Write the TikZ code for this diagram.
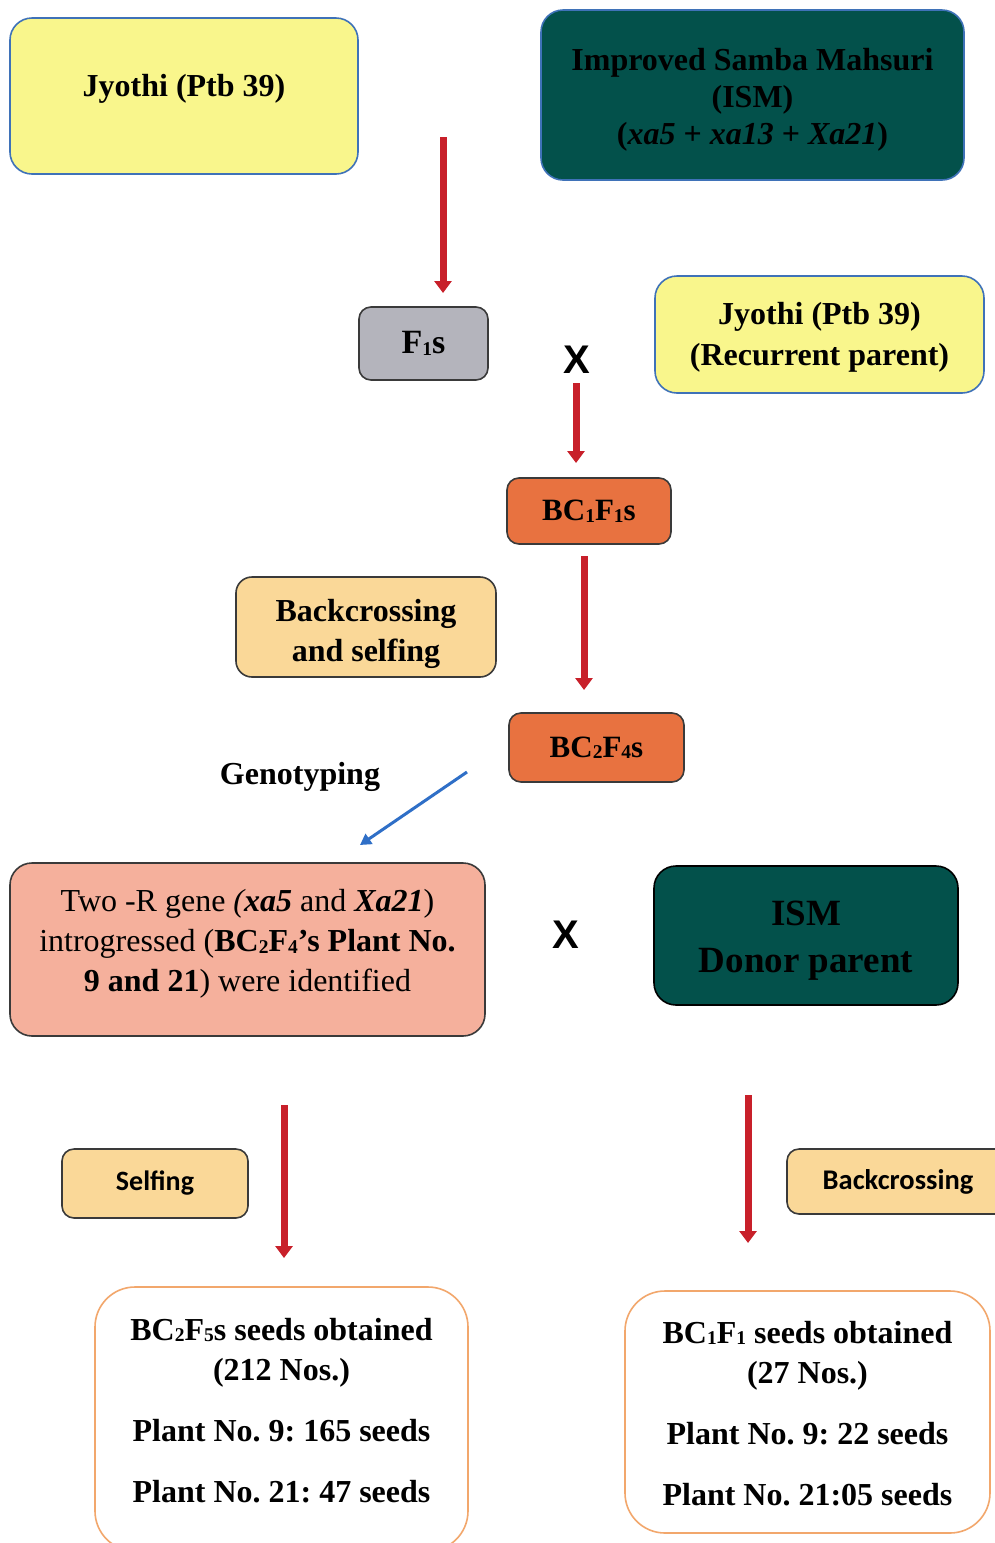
\documentclass[tikz,border=0pt]{standalone}
\usepackage{fontspec}
\setmainfont{Liberation Serif}
\newfontfamily\calib{Carlito}
\newfontfamily\arialf{Liberation Sans}
\usetikzlibrary{arrows.meta}
\definecolor{yel}{HTML}{F9F68C}
\definecolor{bluebd}{HTML}{3F72B8}
\definecolor{teal}{HTML}{03514B}
\definecolor{grayf}{HTML}{B4B4BC}
\definecolor{orng}{HTML}{E87240}
\definecolor{lorng}{HTML}{FAD898}
\definecolor{salm}{HTML}{F5B09C}
\definecolor{obd}{HTML}{F2A76C}
\definecolor{redarr}{HTML}{C8202A}
\definecolor{bluearr}{HTML}{2F6FC7}
\definecolor{dkbd}{HTML}{3A3A3A}
\newcommand\subs[1]{{\fontsize{19.5}{19.5}\selectfont\raisebox{-1.5pt}{#1}}}
\newcommand\shiftt[2]{\raisebox{#1}[\height][\depth]{\begin{tabular}{@{}c@{}}#2\end{tabular}}}
\frenchspacing
\tikzset{
  box/.style={rounded corners=22pt, align=center, inner sep=0pt,
    font=\bfseries\fontsize{32}{38}\selectfont, line width=1.6pt},
  smallbox/.style={box, rounded corners=12pt},
  redarrow/.style={draw=redarr, line width=7pt, -{Triangle[width=17pt,length=12pt]}},
  bluearrow/.style={draw=bluearr, line width=3pt, -{Triangle[width=12pt,length=11pt]}},
  crossx/.style={font=\arialf\bfseries\fontsize{40}{40}\selectfont, inner sep=0pt},
}
\begin{document}
\begin{tikzpicture}[x=1pt,y=-1pt]
\useasboundingbox (0,0) rectangle (995,1543);
\clip (0,0) rectangle (995,1543);
\fill[white] (0,0) rectangle (995,1543);

% top row
\node[box, draw=bluebd, fill=yel, minimum width=348pt, minimum height=156pt] (jy1) at (184,96)
  {\shiftt{7pt}{Jyothi (Ptb 39)}};
\node[box, draw=bluebd, fill=teal, minimum width=423pt, minimum height=170pt,
  font=\bfseries\fontsize{32}{37}\selectfont] (ism) at (752.5,95)
  {\shiftt{-5pt}{Improved Samba Mahsuri\\(ISM)\\(\textit{xa5} + \textit{xa13} + \textit{Xa21})}};

\coordinate (a1s) at (443,137);
\coordinate (a1e) at (443,293);
\draw[redarrow] (a1s) -- (a1e);

\node[smallbox, draw=dkbd, fill=grayf, minimum width=129pt, minimum height=73pt,
  font=\bfseries\fontsize{34}{40}\selectfont] (f1) at (423.5,343.5) {F\subs{1}s};
\node[crossx] (x1) at (577,360) {X};
\node[box, draw=bluebd, fill=yel, minimum width=329pt, minimum height=117pt,
  font=\bfseries\fontsize{32}{41}\selectfont] (jy2) at (819.5,334.5)
  {\shiftt{-2pt}{Jyothi (Ptb 39)\\(Recurrent parent)}};

\coordinate (a2s) at (576,383);
\coordinate (a2e) at (576,463);
\draw[redarrow] (a2s) -- (a2e);

\node[smallbox, draw=dkbd, fill=orng, minimum width=164pt, minimum height=66pt,
  font=\bfseries\fontsize{31}{36}\selectfont] (bc1) at (589,511) {BC\subs{1}F\subs{1}s};

\node[smallbox, rounded corners=16pt, draw=dkbd, fill=lorng, minimum width=260pt, minimum height=100pt,
  font=\bfseries\fontsize{32}{40}\selectfont] (bas) at (366,627)
  {\shiftt{-6pt}{Backcrossing\\and selfing}};

\coordinate (a3s) at (584,556);
\coordinate (a3e) at (584,690);
\draw[redarrow] (a3s) -- (a3e);

\node[smallbox, draw=dkbd, fill=orng, minimum width=175pt, minimum height=69pt,
  font=\bfseries\fontsize{31}{36}\selectfont] (bc2) at (596.5,747.5) {BC\subs{2}F\subs{4}s};

\node[font=\bfseries\fontsize{32}{36}\selectfont, inner sep=0pt] (geno) at (300,777) {Genotyping};
\coordinate (a4s) at (467,772);
\coordinate (a4e) at (360,845);
\draw[bluearrow] (a4s) -- (a4e);

% middle row
\node[box, draw=dkbd, fill=salm, minimum width=475pt, minimum height=173pt,
  font=\fontsize{32}{40}\selectfont] (two) at (247.5,949.5)
  {\shiftt{6pt}{Two -R gene \textit{(\textbf{xa5}} and \textbf{\textit{Xa21}})\\
   introgressed (\textbf{BC\subs{2}F\subs{4}’s Plant No.}\\
   \textbf{9 and 21}) were identified}};
\node[crossx] (x2) at (566,935) {X};
\node[box, draw=black, fill=teal, minimum width=304pt, minimum height=139pt,
  font=\bfseries\fontsize{37}{47}\selectfont] (don) at (806,935.5) {\shiftt{-4pt}{ISM\\Donor parent}};

% lower arrows & labels
\coordinate (a5s) at (284,1105);
\coordinate (a5e) at (284,1258);
\draw[redarrow] (a5s) -- (a5e);
\node[smallbox, draw=dkbd, fill=lorng, minimum width=186pt, minimum height=69pt,
  font=\calib\bfseries\fontsize{28}{34}\selectfont] (self) at (155,1183.5) {Selfing};

\coordinate (a6s) at (748,1095);
\coordinate (a6e) at (748,1243);
\draw[redarrow] (a6s) -- (a6e);
\node[smallbox, draw=dkbd, fill=lorng, minimum width=222pt, minimum height=65pt,
  font=\calib\bfseries\fontsize{28.5}{34}\selectfont] (back) at (898,1181.5) {Backcrossing};

% results
\node[box, rounded corners=40pt, draw=obd, fill=white, minimum width=373pt, minimum height=264pt,
  font=\bfseries\fontsize{32}{40}\selectfont] (res1) at (281.5,1419)
  {\shiftt{6pt}{BC\subs{2}F\subs{5}s seeds obtained\\(212 Nos.)\\[21pt]
   Plant No. 9: 165 seeds\\[21pt]Plant No. 21: 47 seeds}};
\node[box, rounded corners=40pt, draw=obd, fill=white, minimum width=365pt, minimum height=242pt,
  font=\bfseries\fontsize{32}{40}\selectfont] (res2) at (807.5,1412)
  {\shiftt{-4pt}{BC\subs{1}F\subs{1} seeds obtained\\(27 Nos.)\\[21pt]
   Plant No. 9: 22 seeds\\[21pt]Plant No. 21:05 seeds}};
\end{tikzpicture}
\end{document}
